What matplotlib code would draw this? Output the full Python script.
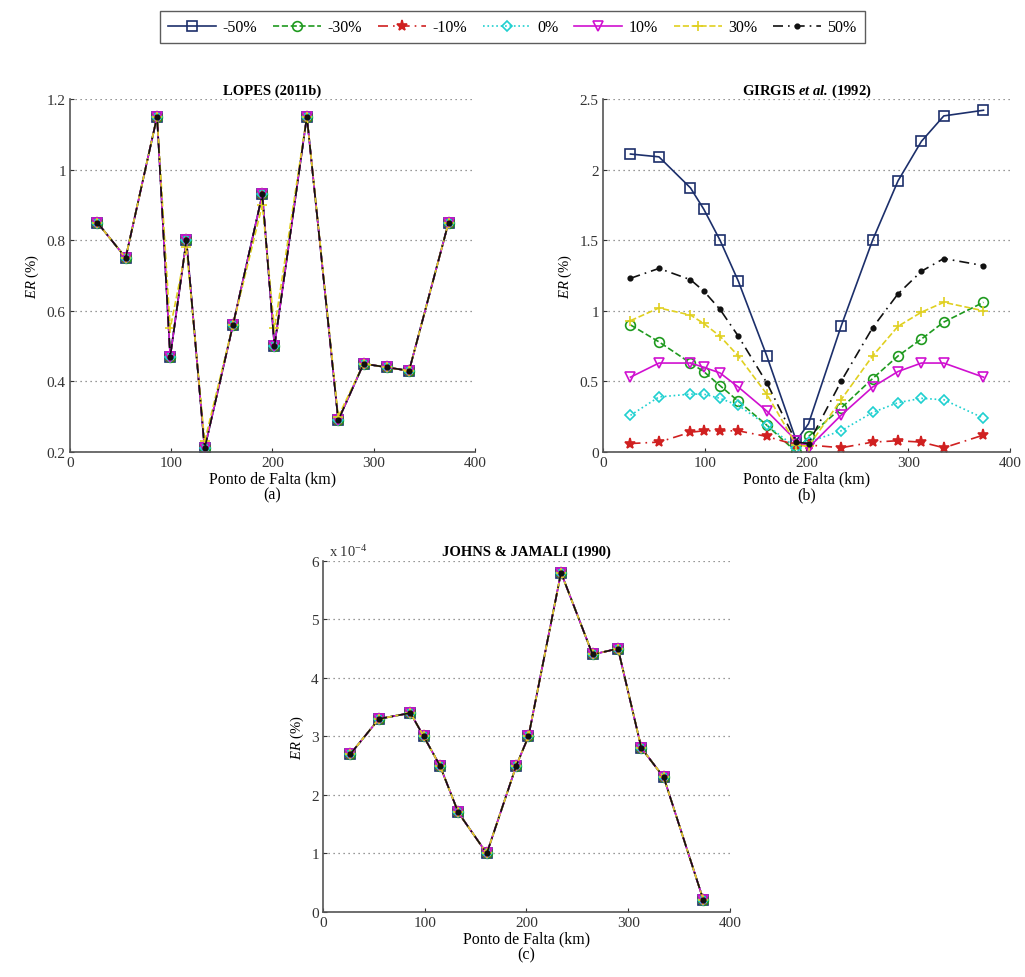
import matplotlib
matplotlib.use('Agg')
import matplotlib.pyplot as plt
from matplotlib.ticker import FuncFormatter
import numpy as np

plt.rcParams['font.family'] = ['Liberation Serif', 'DejaVu Serif']
plt.rcParams['mathtext.fontset'] = 'custom'
plt.rcParams['mathtext.rm'] = 'Liberation Serif'
plt.rcParams['mathtext.it'] = 'Liberation Serif:italic'
plt.rcParams['mathtext.bf'] = 'Liberation Serif:bold'
plt.rcParams['mathtext.bfit'] = 'Liberation Serif:italic:bold'

# fault positions along the line (km)
pontos = [27, 55, 86, 99, 115, 133, 161, 190, 202, 234, 265, 290, 313, 335, 374]
casos = ['-50%', '-30%', '-10%', '0%', '10%', '30%', '50%']

# LOPES (2011b): practically the same error for every variation
lopes_base = [0.85, 0.75, 1.15, 0.47, 0.80, 0.21, 0.56, 0.93, 0.50, 1.15, 0.29, 0.45, 0.44, 0.43, 0.85]
lopes_30 = [0.85, 0.75, 1.15, 0.55, 0.78, 0.23, 0.56, 0.90, 0.55, 1.15, 0.30, 0.45, 0.44, 0.43, 0.85]

# GIRGIS et al. (1992)
girgis_m50 = [2.11, 2.09, 1.87, 1.72, 1.50, 1.21, 0.68, 0.08, 0.20, 0.89, 1.50, 1.92, 2.20, 2.38, 2.42]
girgis_m30 = [0.90, 0.78, 0.63, 0.57, 0.47, 0.36, 0.19, 0.00, 0.11, 0.31, 0.52, 0.68, 0.80, 0.92, 1.06]
girgis_m10 = [0.06, 0.07, 0.14, 0.15, 0.15, 0.15, 0.11, 0.05, 0.05, 0.03, 0.07, 0.08, 0.07, 0.03, 0.12]
girgis_0 = [0.26, 0.39, 0.41, 0.41, 0.38, 0.33, 0.19, 0.03, 0.07, 0.15, 0.28, 0.35, 0.38, 0.37, 0.24]
girgis_p10 = [0.53, 0.63, 0.63, 0.60, 0.56, 0.46, 0.29, 0.08, 0.03, 0.26, 0.46, 0.57, 0.63, 0.63, 0.53]
girgis_p30 = [0.93, 1.02, 0.97, 0.91, 0.82, 0.68, 0.41, 0.05, 0.04, 0.37, 0.68, 0.89, 0.99, 1.06, 1.00]
girgis_p50 = [1.23, 1.30, 1.22, 1.14, 1.01, 0.82, 0.49, 0.07, 0.06, 0.50, 0.88, 1.12, 1.28, 1.37, 1.32]

# JOHNS & JAMALI (1990)
johns_base = [2.7e-4, 3.3e-4, 3.4e-4, 3.0e-4, 2.5e-4, 1.7e-4, 1.0e-4, 2.5e-4, 3.0e-4,
              5.8e-4, 4.4e-4, 4.5e-4, 2.8e-4, 2.3e-4, 0.2e-4]

estilos = [
    dict(color='#1c2f6b', ls='-', marker='s', mfc='none', ms=7),
    dict(color='#1f9a1f', ls='--', marker='o', mfc='none', ms=7),
    dict(color='#d02020', ls=(0, (6, 3, 1, 3)), marker='*', mfc='#d02020', ms=8),
    dict(color='#1fd0d0', ls=':', marker='D', mfc='none', ms=5.5),
    dict(color='#d010d0', ls='-', marker='v', mfc='none', ms=7),
    dict(color='#e0d020', ls='--', marker='+', ms=7),
    dict(color='#111111', ls=(0, (6, 3, 1, 3)), marker='.', ms=6.5),
]

lopes = [lopes_base, lopes_base, lopes_base, lopes_base, lopes_base, lopes_30, lopes_base]
girgis = [girgis_m50, girgis_m30, girgis_m10, girgis_0, girgis_p10, girgis_p30, girgis_p50]
johns = [johns_base] * 7

fig = plt.figure(figsize=(10.25, 9.78), dpi=100)
ax_a = fig.add_axes([0.0683, 0.5368, 0.395, 0.361])
ax_b = fig.add_axes([0.5883, 0.5368, 0.397, 0.361])
ax_c = fig.add_axes([0.3151, 0.0665, 0.397, 0.359])


def estilo_eixo(ax, titulo, letra):
    ax.spines['top'].set_visible(False)
    ax.spines['right'].set_visible(False)
    for s in ['left', 'bottom']:
        ax.spines[s].set_color('#555555')
        ax.spines[s].set_linewidth(1.2)
    ax.tick_params(direction='in', length=3, labelsize=11, colors='#333333', pad=3)
    ax.yaxis.grid(True, linestyle=(0, (1, 3)), color='#777777', linewidth=0.9)
    ax.set_axisbelow(True)
    ax.set_xlim(0, 400)
    ax.set_xticks([0, 100, 200, 300, 400])
    ax.set_xlabel('Ponto de Falta (km)\n(' + letra + ')', fontsize=11.5, linespacing=1.0, labelpad=1)
    ax.set_ylabel('$ER$ (%)', fontsize=10.5, labelpad=4)
    ax.set_title(titulo, fontsize=10.5, fontweight='bold', pad=4)


linhas = []
for dados, est, nome in zip(lopes, estilos, casos):
    l, = ax_a.plot(pontos, dados, lw=1.2, markeredgewidth=1.2, label=nome, **est)
    linhas.append(l)
ax_a.set_ylim(0.2, 1.2)
ax_a.set_yticks([0.2, 0.4, 0.6, 0.8, 1.0, 1.2])
ax_a.yaxis.set_major_formatter(FuncFormatter(lambda v, p: '%g' % v))
estilo_eixo(ax_a, 'LOPES (2011b)', 'a')

for dados, est in zip(girgis, estilos):
    ax_b.plot(pontos, dados, lw=1.2, markeredgewidth=1.2, **est)
ax_b.set_ylim(0, 2.5)
ax_b.set_yticks([0, 0.5, 1, 1.5, 2, 2.5])
ax_b.yaxis.set_major_formatter(FuncFormatter(lambda v, p: '%g' % v))
estilo_eixo(ax_b, r'GIRGIS $\mathbfit{et\ al.}\,$(1992)', 'b')

for dados, est in zip(johns, estilos):
    ax_c.plot(pontos, dados, lw=1.2, markeredgewidth=1.2, **est)
ax_c.set_ylim(0, 6e-4)
ax_c.set_yticks(np.arange(0, 7) * 1e-4)
ax_c.yaxis.set_major_formatter(FuncFormatter(lambda v, p: '%g' % round(v * 1e4, 6)))
estilo_eixo(ax_c, 'JOHNS & JAMALI (1990)', 'c')
ax_c.text(0.015, 1.005, r'x 10$^{-4}$', transform=ax_c.transAxes, fontsize=10.5,
          ha='left', va='bottom', color='#333333')

fig.legend(handles=linhas, loc='center', bbox_to_anchor=(0.5, 0.971), ncol=7,
           fontsize=11.5, frameon=True, fancybox=False, edgecolor='#333333',
           handlelength=3.0, columnspacing=1.0, handletextpad=0.4, borderpad=0.5)

fig.savefig('out.png', dpi=100)
